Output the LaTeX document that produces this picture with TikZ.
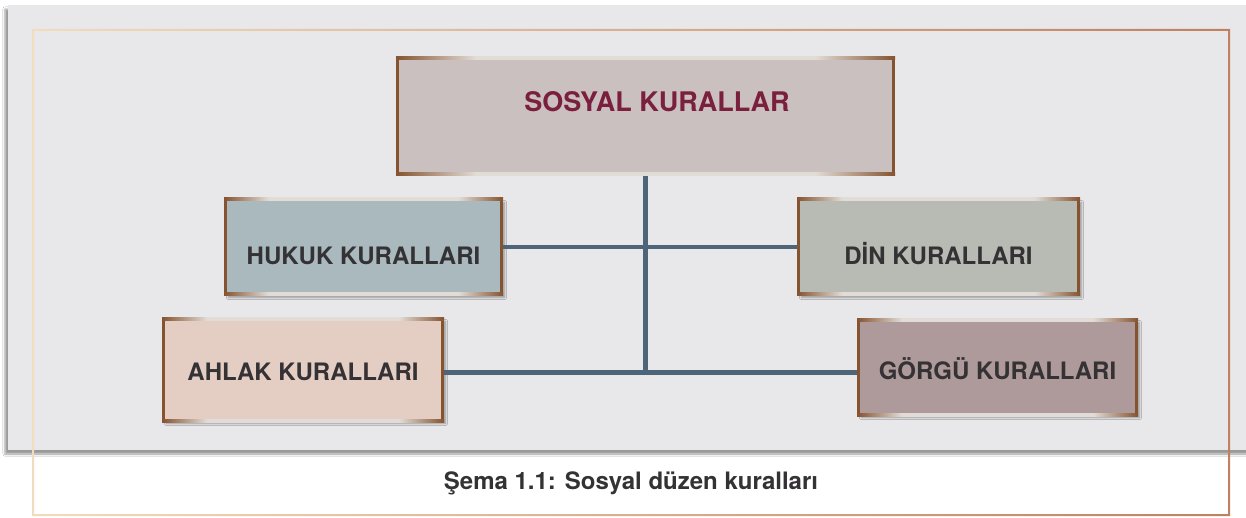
\documentclass[tikz,border=0pt]{standalone}
\usepackage{fontspec}
\setmainfont{TeX Gyre Heros}
\usetikzlibrary{shadows.blur}
\definecolor{panel}{HTML}{E8E8EA}
\definecolor{cream}{HTML}{F0DCBE}
\definecolor{copper}{HTML}{BF8160}
\definecolor{edge}{HTML}{85532F}
\definecolor{edgelight}{HTML}{E2DCD6}
\definecolor{wire}{HTML}{4E6478}
\definecolor{ink}{HTML}{343234}
\definecolor{wine}{HTML}{7A1F3D}
\definecolor{topfill}{HTML}{CBC0C0}
\definecolor{hukukfill}{HTML}{A9B9BE}
\definecolor{dinfill}{HTML}{B8BBB3}
\definecolor{ahlakfill}{HTML}{E4CEC3}
\definecolor{gorgufill}{HTML}{AE9A9A}
\pgfdeclarehorizontalshading{edgefade}{100bp}{color(0bp)=(edge); color(25bp)=(edge); color(33bp)=(edgelight); color(67bp)=(edgelight); color(75bp)=(edge); color(100bp)=(edge)}
\tikzset{
  box/.style={rectangle, draw=edge, line width=3pt, inner sep=0pt, align=center, text=ink, font=\bfseries\fontsize{24}{28}\selectfont},
  shadowed/.style={blur shadow={shadow xshift=3pt, shadow yshift=-3pt, shadow blur steps=5, shadow opacity=35}},
  wire/.style={draw=wire, line width=4.5pt},
}
\begin{document}
\begin{tikzpicture}[x=1pt, y=-1pt]
  \useasboundingbox (0,0) rectangle (1246,518);
  \fill[white] (0,0) rectangle (1246,518);
  % panel and frame
  \fill[panel, blur shadow={shadow xshift=-3pt, shadow yshift=-4pt, shadow opacity=40}] (8,5) rectangle (1262,450);
  \shade[left color=cream, right color=copper, even odd rule] (32,29) rectangle (1230,516) (34,31) rectangle (1228,514);

  \node[box, fill=topfill, minimum width=496pt, minimum height=116pt,
    label={[name=toptext, text=wine, font=\bfseries\fontsize{27}{31}\selectfont, xshift=11.5pt, yshift=14.5pt]center:SOSYAL KURALLAR}] (top) at (645.5,116.5) {};
  \node[box, shadowed, fill=hukukfill, minimum width=276pt, minimum height=95pt, text height=36pt] (hukuk) at (363.5,247) {HUKUK KURALLARI};
  \node[box, shadowed, fill=dinfill, minimum width=280pt, minimum height=95pt, text height=36pt] (din) at (938.5,247) {DİN KURALLARI};
  \node[box, shadowed, fill=ahlakfill, minimum width=279pt, minimum height=102pt, text height=22.6pt] (ahlak) at (303,369.5) {AHLAK KURALLARI};
  \node[box, shadowed, fill=gorgufill, minimum width=278pt, minimum height=95pt, text height=25.6pt] (gorgu) at (997.5,367) {GÖRGÜ KURALLARI};

  % fading top and bottom edges
  \foreach \n in {top,hukuk,din,ahlak,gorgu} {
    \shade[shading=edgefade] (\n.north west) rectangle ([yshift=-3pt]\n.north east);
    \shade[shading=edgefade] (\n.south west) rectangle ([yshift=3pt]\n.south east);
  }

  \coordinate (junc) at (646,372.5);
  \draw[wire] (top.south) -- (top.south |- junc);
  \draw[wire] (hukuk.east) -- (din.west);
  \draw[wire] (ahlak.east |- junc) -- (gorgu.west |- junc);

  \node[text=ink, font=\bfseries\fontsize{24}{28}\selectfont] (caption) at (631,483) {Şema 1.1: Sosyal düzen kuralları};
\end{tikzpicture}
\end{document}
